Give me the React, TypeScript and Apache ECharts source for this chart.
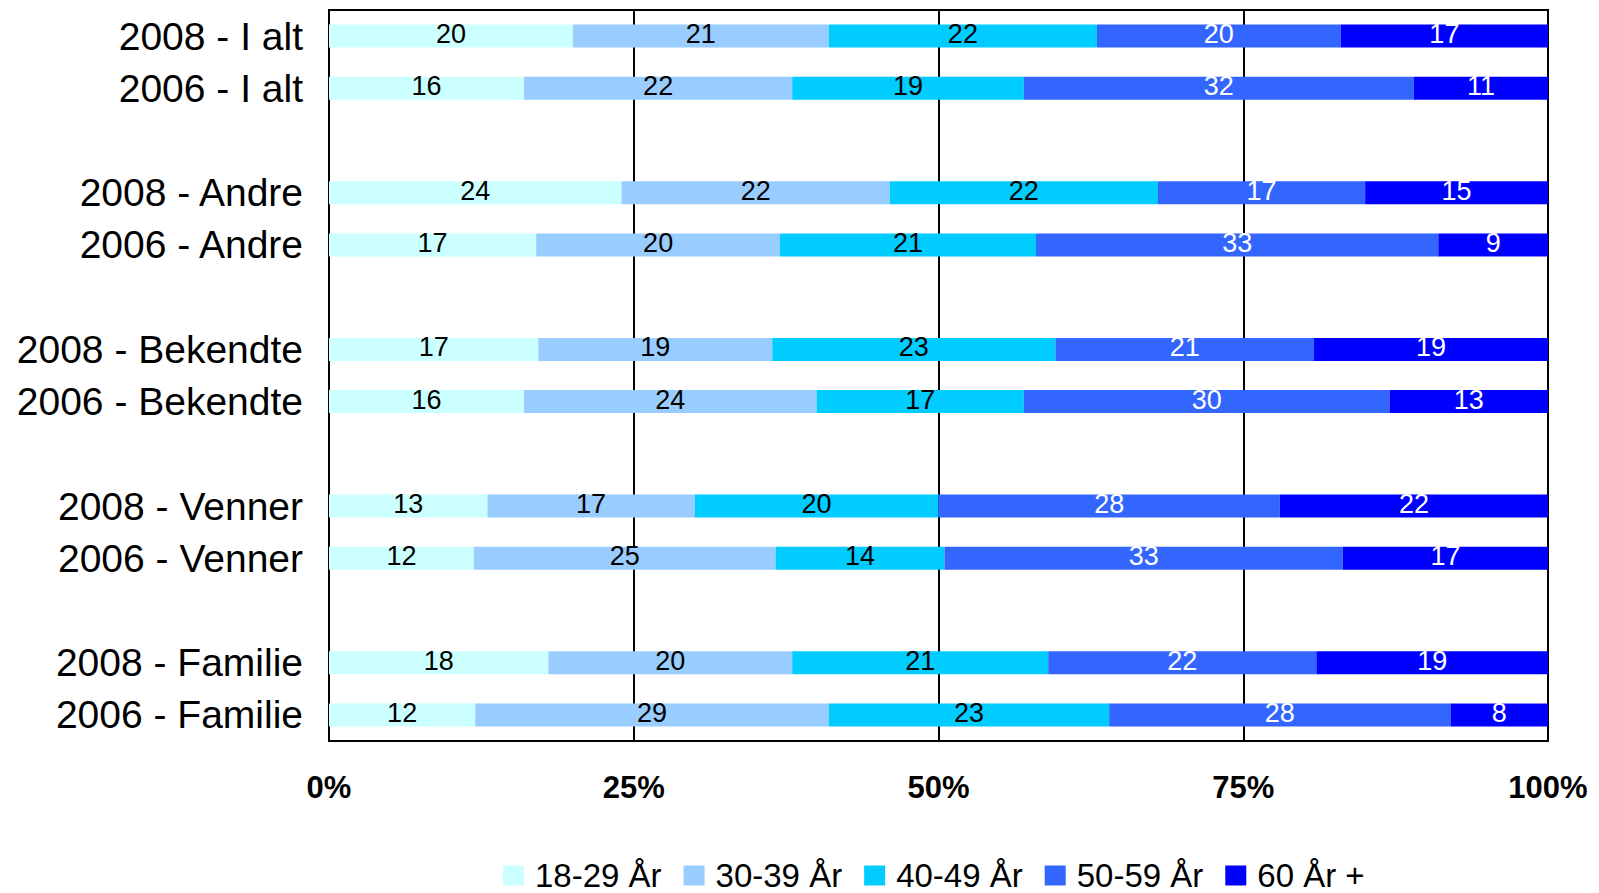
import React, { useEffect, useRef } from "react";
import * as echarts from "echarts";

const categories = [
  "2008 - I alt",
  "2006 - I alt",
  " ",
  "2008 - Andre",
  "2006 - Andre",
  "  ",
  "2008 - Bekendte",
  "2006 - Bekendte",
  "   ",
  "2008 - Venner",
  "2006 - Venner",
  "    ",
  "2008 - Familie",
  "2006 - Familie",
];

const seriesNames = ["18-29 År", "30-39 År", "40-49 År", "50-59 År", "60 År +"];

const age18_29 = [20, 16, null, 24, 17, null, 17, 16, null, 13, 12, null, 18, 12];
const age30_39 = [21, 22, null, 22, 20, null, 19, 24, null, 17, 25, null, 20, 29];
const age40_49 = [22, 19, null, 22, 21, null, 23, 17, null, 20, 14, null, 21, 23];
const age50_59 = [20, 32, null, 17, 33, null, 21, 30, null, 28, 33, null, 22, 28];
const age60plus = [17, 11, null, 15, 9, null, 19, 13, null, 22, 17, null, 19, 8];

const xTicks = [0, 25, 50, 75, 100];

const colors = ["#CCFFFF", "#99CCFF", "#00CCFF", "#3366FF", "#0000FF"];
const labelColors = ["#000", "#000", "#000", "#fff", "#fff"];

const FONT = "'Liberation Sans', Arial, Helvetica, sans-serif";

export default function App() {
  const ref = useRef<HTMLDivElement>(null);

  useEffect(() => {
    if (!ref.current) return;
    const chart = echarts.init(ref.current, null, { renderer: "svg" });
    const groups = [age18_29, age30_39, age40_49, age50_59, age60plus];
    const totals = categories.map((_, i) =>
      groups.reduce((s, g) => s + (g[i] == null ? 0 : (g[i] as number)), 0)
    );

    const series = groups.map((g, si) => ({
      name: seriesNames[si],
      type: "bar",
      stack: "total",
      barWidth: 23,
      itemStyle: { color: colors[si] },
      label: {
        show: true,
        position: "inside",
        offset: [0, -2],
        color: labelColors[si],
        fontFamily: FONT,
        fontSize: 27,
        formatter: (p: any) => {
          const v = g[p.dataIndex];
          return v == null ? "" : String(v);
        },
      },
      data: g.map((v, i) => (v == null ? "-" : (v / totals[i]) * 100)),
    }));

    chart.setOption({
      animation: false,
      grid: {
        left: 329,
        right: 51,
        top: 10,
        bottom: 152,
        show: true,
        borderColor: "#000",
        borderWidth: 2,
        containLabel: false,
      },
      legend: {
        data: seriesNames,
        top: 859,
        left: 503,
        padding: 0,
        itemWidth: 21,
        itemHeight: 20,
        itemGap: 22,
        icon: "rect",
        textStyle: {
          fontFamily: FONT,
          fontSize: 33,
          lineHeight: 33,
          color: "#000",
          padding: [0, 0, 0, 6],
        },
      },
      xAxis: {
        type: "value",
        min: xTicks[0],
        max: xTicks[xTicks.length - 1],
        interval: 25,
        axisLine: { show: true, lineStyle: { color: "#000", width: 2 } },
        axisTick: { show: false },
        splitLine: { show: true, lineStyle: { color: "#000", width: 2 } },
        axisLabel: {
          formatter: "{value}%",
          fontFamily: FONT,
          fontWeight: "bold",
          fontSize: 31,
          color: "#000",
          margin: 31,
        },
      },
      yAxis: {
        type: "category",
        inverse: true,
        data: categories,
        axisLine: { show: true, lineStyle: { color: "#000", width: 2 } },
        axisTick: { show: false },
        splitLine: { show: false },
        axisLabel: {
          fontFamily: FONT,
          fontSize: 39,
          color: "#000",
          margin: 26,
          interval: 0,
        },
      },
      series,
    });

    return () => chart.dispose();
  }, []);

  return (
    <div
      ref={ref}
      style={{ position: "fixed", left: 0, top: 0, width: 1599, height: 893, background: "#fff" }}
    />
  );
}
